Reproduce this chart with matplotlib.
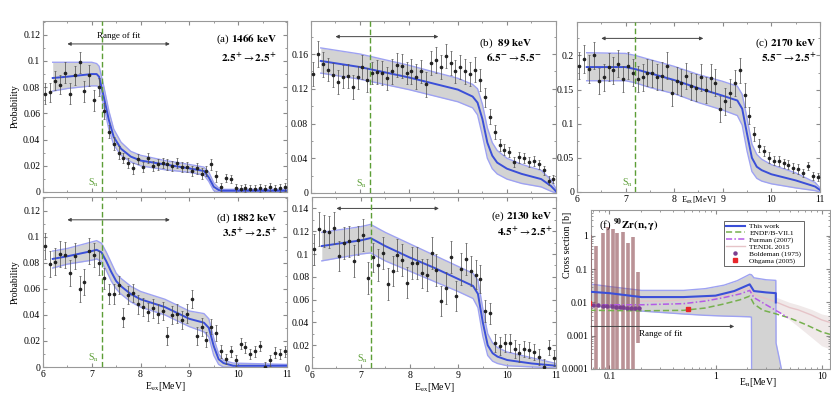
import numpy as np
import matplotlib
matplotlib.use('Agg')
import matplotlib.pyplot as plt
from matplotlib.ticker import MultipleLocator, FuncFormatter, LogLocator, NullFormatter
from matplotlib.lines import Line2D

plt.rcParams['font.family'] = 'serif'
plt.rcParams['font.serif'] = ['Liberation Serif', 'DejaVu Serif']
plt.rcParams['mathtext.fontset'] = 'stix'

# excitation energies of the data points (MeV)
e_pts = np.round(np.arange(6.05, 11.0, 0.1), 2)
sn = 7.2

# ---- panel (a) 1466 keV
data_a = [.075, .076, .085, .082, .091, .075, .089, .099, .077, .089, .070, .080,
          .062, .046, .037, .030, .026, .022, .018, .025, .019, .026,
          .020, .021, .022, .021, .020, .022, .019, .019, .016, .018,
          .014, .016, .021, .012, .004, .011, .010, .003, .002, .003,
          .002, .002, .003, .002, .004, .002, .003, .004]
err_a = [.008, .007, .007, .007, .008, .008, .007, .008, .008, .008, .008, .007,
         .006, .005, .005, .005, .004, .004, .004, .004, .004, .004,
         .004, .004, .004, .004, .004, .004, .004, .004, .004, .004,
         .004, .004, .004, .004, .003, .003, .003, .003, .003, .003,
         .003, .003, .003, .003, .003, .003, .003, .003]
fit_a_x = [6.2, 6.5, 7.0, 7.1, 7.15, 7.25, 7.35, 7.45, 7.6, 7.8, 8.0, 8.5, 9.0, 9.3, 9.4, 9.5, 9.6, 9.7, 11.0]
fit_a = [.087, .088, .090, .090, .088, .072, .055, .042, .033, .027, .024, .021, .018, .016, .011, .004, .0015, .001, .001]
hi_a = [.099, .099, .099, .098, .096, .080, .062, .048, .038, .031, .028, .024, .021, .019, .015, .007, .003, .002, .002]
lo_a = [.077, .079, .081, .081, .080, .065, .048, .036, .028, .023, .020, .017, .015, .013, .008, .001, 0, 0, 0]

# ---- panel (b) 89 keV
data_b = [.137, .160, .148, .142, .136, .128, .134, .135, .122, .133,
          .145, .130, .138, .139, .138, .132, .140, .147, .146, .138,
          .140, .134, .140, .125, .150, .153, .145, .158, .150, .140,
          .145, .140, .137, .142, .130, .110, .088, .070, .055, .050,
          .047, .036, .041, .040, .036, .037, .033, .026, .014, .016]
err_b = [.014, .015, .014, .013, .014, .014, .013, .014, .014, .013,
         .014, .014, .013, .014, .014, .013, .014, .014, .014, .013,
         .014, .014, .013, .014, .014, .015, .014, .014, .014, .013,
         .014, .014, .014, .014, .013, .011, .009, .008, .007, .006,
         .006, .006, .006, .006, .006, .006, .005, .005, .005, .005]
fit_b_x = [6.2, 7.0, 8.0, 9.0, 9.3, 9.4, 9.5, 9.6, 9.7, 9.8, 10.0, 10.3, 10.7, 10.9, 11.0]
fit_b = [.152, .145, .133, .119, .111, .104, .085, .058, .043, .035, .028, .022, .016, .008, .002]
hi_b = [.167, .160, .147, .132, .125, .120, .102, .075, .058, .049, .040, .033, .026, .015, .005]
lo_b = [.138, .131, .119, .105, .098, .090, .066, .040, .028, .022, .016, .011, .007, .002, 0]

# ---- panel (c) 2170 keV
data_c = [.185, .195, .180, .200, .163, .168, .183, .178, .188, .165,
          .185, .175, .166, .168, .175, .174, .168, .170, .185, .145,
          .163, .160, .170, .155, .153, .168, .150, .167, .160, .122,
          .133, .145, .160, .178, .142, .112, .085, .068, .060, .050,
          .046, .045, .042, .040, .035, .034, .028, .038, .024, .022]
err_c = [.020, .021, .020, .020, .019, .020, .021, .020, .020, .019,
         .020, .020, .019, .020, .020, .020, .019, .020, .020, .019,
         .020, .020, .019, .020, .020, .020, .019, .020, .020, .019,
         .020, .020, .019, .019, .017, .013, .010, .009, .008, .008,
         .007, .007, .007, .007, .007, .007, .006, .006, .006, .006]
fit_c_x = [6.2, 7.0, 7.2, 7.5, 8.0, 8.5, 9.0, 9.3, 9.4, 9.5, 9.6, 9.7, 9.8, 10.0, 10.5, 10.9, 11.0]
fit_c = [.183, .183, .180, .174, .164, .152, .141, .134, .122, .085, .050, .037, .032, .026, .017, .008, .003]
hi_c = [.204, .203, .200, .194, .184, .172, .162, .155, .143, .108, .070, .055, .048, .040, .028, .014, .006]
lo_c = [.163, .163, .160, .153, .144, .131, .120, .112, .098, .060, .030, .020, .016, .012, .006, .002, 0]

# ---- panel (d) 1882 keV
data_d = [.093, .079, .081, .087, .086, .072, .085, .060, .065, .089,
          .086, .080, .068, .056, .056, .063, .038, .055, .057, .048,
          .046, .042, .045, .041, .043, .024, .040, .041, .036, .041,
          .052, .024, .031, .021, .031, .026, .012, .006, .012, .005,
          .018, .015, .010, .012, .016, .000, .005, .011, .010, .012]
err_d = [.010, .010, .010, .010, .010, .010, .010, .010, .010, .010,
         .009, .009, .008, .008, .008, .007, .007, .007, .007, .007,
         .007, .007, .007, .007, .007, .007, .007, .007, .007, .007,
         .007, .007, .007, .006, .006, .006, .005, .004, .004, .004,
         .004, .004, .004, .004, .004, .004, .004, .004, .004, .004]
fit_d_x = [6.2, 6.5, 7.0, 7.1, 7.2, 7.3, 7.4, 7.5, 7.6, 7.8, 8.0, 8.5, 9.0, 9.3, 9.4, 9.5, 9.6, 9.7, 9.9, 11.0]
fit_d = [.083, .085, .089, .090, .088, .081, .073, .066, .062, .056, .052, .046, .037, .034, .030, .016, .006, .003, .001, .001]
hi_d = [.089, .091, .096, .097, .095, .088, .080, .072, .068, .062, .058, .052, .043, .041, .037, .022, .010, .005, .003, .002]
lo_d = [.076, .079, .082, .083, .081, .074, .066, .060, .056, .050, .046, .040, .031, .027, .023, .009, .002, 0, 0, 0]

# ---- panel (e) 2130 keV
data_e = [.104, .122, .120, .119, .123, .098, .110, .111, .094, .112,
          .117, .079, .097, .090, .101, .074, .085, .099, .095, .075,
          .092, .092, .083, .082, .101, .086, .059, .070, .097, .063,
          .087, .096, .085, .082, .078, .050, .048, .022, .019, .022,
          .022, .017, .013, .017, .016, .014, .010, .001, .018, .009]
err_e = [.014, .015, .014, .014, .014, .013, .014, .014, .014, .013,
         .014, .014, .013, .014, .014, .014, .013, .014, .014, .014,
         .014, .014, .013, .014, .014, .014, .013, .014, .014, .013,
         .014, .014, .013, .013, .012, .010, .009, .008, .008, .008,
         .008, .008, .008, .007, .007, .007, .007, .007, .007, .007]
fit_e_x = [6.2, 7.0, 7.2, 7.5, 8.0, 8.5, 9.0, 9.3, 9.4, 9.5, 9.6, 9.7, 9.8, 10.0, 10.5, 11.0]
fit_e = [.107, .112, .114, .107, .097, .088, .078, .072, .065, .040, .020, .013, .010, .007, .004, .002]
hi_e = [.119, .124, .126, .119, .109, .099, .089, .083, .077, .052, .030, .022, .018, .014, .009, .004]
lo_e = [.094, .100, .101, .094, .085, .076, .067, .061, .053, .028, .011, .006, .004, .002, .001, 0]

# ---- panel (f) 90Zr(n,g) cross section
band_x = [0.065, 0.1, 0.2, 0.5, 0.8, 1.2, 1.6, 2.1, 2.18, 2.2, 2.3, 3.0, 3.7, 3.72, 4.0, 4.5]
band_hi = [0.036, 0.030, 0.023, 0.023, 0.026, 0.033, 0.045, 0.070, 0.068, 0.066, 0.055, 0.048, 0.046, 0.0006, 0.0002, 0.00003]
band_lo = [0.0080, 0.0070, 0.0055, 0.0045, 0.0041, 0.0039, 0.0038, 0.0037, 0.0036, 1e-6, 1e-6, 1e-6, 1e-6, 1e-6, 1e-6, 1e-6]
work_x = [0.065, 0.1, 0.2, 0.5, 1.0, 1.5, 2.1, 2.3, 3.0, 3.7, 3.7]
work_y = [0.021, 0.019, 0.0145, 0.0145, 0.016, 0.022, 0.035, 0.022, 0.020, 0.019, 0.010]
endf_x = [0.065, 0.2, 0.5, 0.8, 1.2, 1.7, 2.1, 2.3, 2.8, 3.5, 5.0, 7.0, 10.0, 12.0]
endf_y = [0.0058, 0.0056, 0.0058, 0.0068, 0.0090, 0.012, 0.0155, 0.0090, 0.0058, 0.0048, 0.0034, 0.0022, 0.0013, 0.0011]
fur_x = [0.065, 0.2, 0.5, 0.8, 1.2, 1.7, 2.1, 2.3, 3.0, 4.0, 4.8]
fur_y = [0.0085, 0.0085, 0.0092, 0.011, 0.014, 0.018, 0.023, 0.014, 0.0085, 0.005, 0.0035]
tendl_x = [0.19, 0.3, 0.5, 0.8, 1.2, 1.7, 2.1, 2.3, 3.0, 3.8, 5.0, 6.0, 8.0, 10.0, 12.0]
tendl_y = [0.011, 0.011, 0.012, 0.013, 0.016, 0.022, 0.028, 0.017, 0.013, 0.010, 0.007, 0.006, 0.0042, 0.003, 0.0025]
tband_x = [2.3, 3.0, 3.8, 5.0, 6.0, 8.0, 10.0, 12.0]
tband_hi = [0.020, 0.017, 0.014, 0.010, 0.0085, 0.0062, 0.0045, 0.004]
tband_lo = [0.012, 0.009, 0.006, 0.003, 0.0019, 0.0009, 0.0005, 0.0004]
# TENDL resonances at low energy
res_c = [0.066, 0.074, 0.086, 0.096, 0.107, 0.119, 0.133, 0.149, 0.168, 0.184]
res_peak = [1.1, 0.5, 1.2, 1.8, 1.6, 1.2, 1.3, 0.6, 0.9, 0.08]
res_low = [1e-5, 1e-5, 1e-5, 1e-5, 1e-5, 1e-5, 1e-5, 1e-5, 1e-5, 0.0006]
bold_x = [0.062, 0.07, 0.078, 0.086, 0.095, 0.105, 0.115, 0.125, 0.135, 0.145, 0.16, 0.175, 0.19]
bold_y = [0.0085, 0.0083, 0.0082, 0.0080, 0.0078, 0.0077, 0.0075, 0.0074, 0.0072, 0.0070, 0.0068, 0.0066, 0.0066]
ohg_x = [0.064, 0.55]
ohg_y = [0.0095, 0.0064]

panels = [
    # key, rect, data, err, fit, ylim, ystep, labels, arrow height, label positions (x1, y1, x2, y2)
    ('a', [0.0517, 0.5236, 0.2936, 0.4243], data_a, err_a, (fit_a_x, fit_a, hi_a, lo_a), 0.1305, 0.02,
     r'(a) $\mathbf{1466\ keV}$', r'$\mathbf{2.5^{+}}\rightarrow\mathbf{2.5^{+}}$', 0.113, (0.96, 0.895, 0.955, 0.79)),
    ('b', [0.3742, 0.5211, 0.2948, 0.4268], data_b, err_b, (fit_b_x, fit_b, hi_b, lo_b), 0.198, 0.04,
     r'(b)  $\mathbf{89\ keV}$', r'$\mathbf{6.5^{-}}\rightarrow\mathbf{5.5^{-}}$', 0.180, (0.905, 0.87, 0.94, 0.79)),
    ('c', [0.6943, 0.5236, 0.2924, 0.4218], data_c, err_c, (fit_c_x, fit_c, hi_c, lo_c), 0.249, 0.05,
     r'(c) $\mathbf{2170\ keV}$', r'$\mathbf{5.5^{-}}\rightarrow\mathbf{2.5^{+}}$', 0.225, (0.985, 0.875, 0.985, 0.79)),
    ('d', [0.0517, 0.0893, 0.2936, 0.4218], data_d, err_d, (fit_d_x, fit_d, hi_d, lo_d), 0.1305, 0.02,
     r'(d) $\mathbf{1882\ keV}$', r'$\mathbf{3.5^{+}}\rightarrow\mathbf{2.5^{+}}$', 0.113, (0.96, 0.876, 0.96, 0.79)),
    ('e', [0.3755, 0.0868, 0.2936, 0.4243], data_e, err_e, (fit_e_x, fit_e, hi_e, lo_e), 0.15, 0.02,
     r'(e) $\mathbf{2130\ keV}$', r'$\mathbf{4.5^{+}}\rightarrow\mathbf{2.5^{+}}$', 0.140, (0.985, 0.885, 0.985, 0.80)),
]

band_col = '#d3d3d3'
edge_col = '#9ea2f2'
line_col = '#3b4fd8'
sn_col = '#5c9e36'
fmt_g = FuncFormatter(lambda v, p: '%g' % round(v, 6))


def frame(ax):
    ax.tick_params(which='both', direction='in', top=True, right=True, color='#8a8a8a',
                   labelsize=7, pad=2)
    ax.tick_params(which='major', length=3)
    ax.tick_params(which='minor', length=1.6)
    for s in ax.spines.values():
        s.set_color('#999999')
        s.set_linewidth(0.8)


fig = plt.figure(figsize=(8.31, 4.03), dpi=100)

for key, rect, y, err, fit, ytop, ystep, lab1, lab2, arrow_y, lpos in panels:
    ax = fig.add_axes(rect)
    fx, fmid, fhi, flo = fit
    ax.fill_between(fx, flo, fhi, color=band_col, lw=0, zorder=1)
    ax.plot(fx, fhi, color=edge_col, lw=1.0, zorder=2)
    ax.plot(fx, flo, color=edge_col, lw=1.0, zorder=2)
    ax.plot(fx, fmid, color=line_col, lw=1.4, zorder=3)
    ax.errorbar(e_pts, y, yerr=err, fmt='o', ms=1.6, color='#222222', ecolor='#555555',
                elinewidth=0.55, capsize=1.0, capthick=0.5, zorder=4)
    ax.axvline(sn, color=sn_col, ls=(0, (4, 2)), lw=1.0, zorder=5)
    ax.text(sn - 0.05, 0.015, r'S$_{\rm n}$', color=sn_col, fontsize=7, ha='right', va='bottom',
            transform=ax.get_xaxis_transform())
    ax.annotate('', xy=(8.6, arrow_y), xytext=(6.5, arrow_y),
                arrowprops=dict(arrowstyle='<|-|>', color='#444444', lw=0.7, mutation_scale=5,
                                shrinkA=0, shrinkB=0))
    if key == 'a':
        ax.text(7.55, arrow_y + 0.003, 'Range of fit', fontsize=6.5, ha='center', va='bottom')
    ax.text(lpos[0], lpos[1], lab1, fontsize=8, ha='right', va='center', transform=ax.transAxes)
    ax.text(lpos[2], lpos[3], lab2, fontsize=8, ha='right', va='center', transform=ax.transAxes)

    ax.set_xlim(6, 11)
    ax.set_ylim(0, ytop)
    ax.xaxis.set_major_locator(MultipleLocator(1))
    ax.xaxis.set_minor_locator(MultipleLocator(0.5))
    ax.yaxis.set_major_locator(MultipleLocator(ystep))
    ax.yaxis.set_minor_locator(MultipleLocator(ystep / 2))
    ax.yaxis.set_major_formatter(fmt_g)
    frame(ax)
    if key in ('a', 'd'):
        ax.set_ylabel('Probability', fontsize=7, labelpad=2)
    if key in ('a', 'b'):
        ax.set_xticklabels([])
    else:
        ax.xaxis.set_major_formatter(fmt_g)
        ax.set_xlabel(r'E$_{\rm ex}$[MeV]', fontsize=7, labelpad=1)
    if key == 'c':
        ax.xaxis.label.set_fontsize(6)
        ax.xaxis.set_label_coords(0.5, -0.014)

# ---- panel (f)
ax = fig.add_axes([0.7112, 0.0844, 0.2876, 0.3945])
ax.set_xscale('log')
ax.set_yscale('log')
ax.fill_between(tband_x, tband_lo, tband_hi, color='#f0e9e9', lw=0, zorder=1)
ax.fill_between(band_x, band_lo, band_hi, color=band_col, lw=0, zorder=1)
ax.plot(band_x, band_hi, color=edge_col, lw=1.0, zorder=2)
ax.plot(band_x, band_lo, color=edge_col, lw=1.0, zorder=2)
ax.plot(tendl_x, tendl_y, color='#e6c4c8', lw=1.0, zorder=3)
ax.vlines(res_c, res_low, res_peak, color='#8c4a50', lw=2.6, alpha=0.6, zorder=3)
ax.plot(endf_x, endf_y, color='#76b04e', lw=1.1, ls=(0, (4, 2)), zorder=4)
ax.plot(fur_x, fur_y, color='#b45ae6', lw=1.1, ls=(0, (4, 1.5, 1, 1.5)), zorder=4)
ax.plot(work_x, work_y, color=line_col, lw=1.5, zorder=5)
ax.plot(bold_x, bold_y, 'o', ms=2.2, color='#7b3f8f', zorder=6)
ax.plot(ohg_x, ohg_y, 's', ms=2.6, color='#e8262a', zorder=7)
ax.annotate('', xy=(1.5, 0.0019), xytext=(0.067, 0.0019),
            arrowprops=dict(arrowstyle='-|>', color='#444444', lw=0.7, mutation_scale=5,
                            shrinkA=0, shrinkB=0))
ax.text(0.19, 0.0011, 'Range of fit', fontsize=6.5, ha='left', va='center')
ax.text(0.035, 0.91, r'(f) $^{\mathbf{90}}\mathbf{Zr(n,\gamma)}$', fontsize=8, ha='left', va='center',
        transform=ax.transAxes, zorder=10)
ax.set_xlim(0.067, 12)
ax.set_ylim(1e-4, 6)
ax.xaxis.set_major_locator(LogLocator(base=10))
ax.yaxis.set_major_locator(LogLocator(base=10))
ax.xaxis.set_minor_locator(LogLocator(base=10, subs=np.arange(2, 10)))
ax.yaxis.set_minor_locator(LogLocator(base=10, subs=np.arange(2, 10)))
ax.xaxis.set_major_formatter(fmt_g)
ax.yaxis.set_major_formatter(fmt_g)
ax.xaxis.set_minor_formatter(NullFormatter())
ax.yaxis.set_minor_formatter(NullFormatter())
frame(ax)
ax.set_ylabel('Cross section [b]', fontsize=7)
ax.yaxis.set_label_coords(-0.08, 0.78)
ax.set_xlabel(r'E$_{\rm n}$[MeV]', fontsize=7)
ax.xaxis.set_label_coords(0.7, -0.045)

handles = [
    Line2D([], [], color=line_col, lw=1.5),
    Line2D([], [], color='#76b04e', lw=1.1, ls=(0, (4, 2))),
    Line2D([], [], color='#b45ae6', lw=1.1, ls=(0, (4, 1.5, 1, 1.5))),
    Line2D([], [], color='#e6c4c8', lw=1.0),
    Line2D([], [], color='#7b3f8f', marker='o', ms=2.2, ls='none'),
    Line2D([], [], color='#e8262a', marker='s', ms=2.6, ls='none'),
]
labels = ['This work', 'ENDF/B-VII.1', 'Furman (2007)', 'TENDL 2015', 'Boldeman (1975)', 'Ohgama (2005)']
leg = ax.legend(handles, labels, loc='upper right', bbox_to_anchor=(0.905, 0.955), fontsize=5.3,
                handlelength=2.6, labelspacing=0.08, borderpad=0.3, handletextpad=0.6,
                fancybox=False, framealpha=1)
leg.get_frame().set_edgecolor('#666666')
leg.get_frame().set_linewidth(0.7)

fig.savefig('out.png', dpi=100)
